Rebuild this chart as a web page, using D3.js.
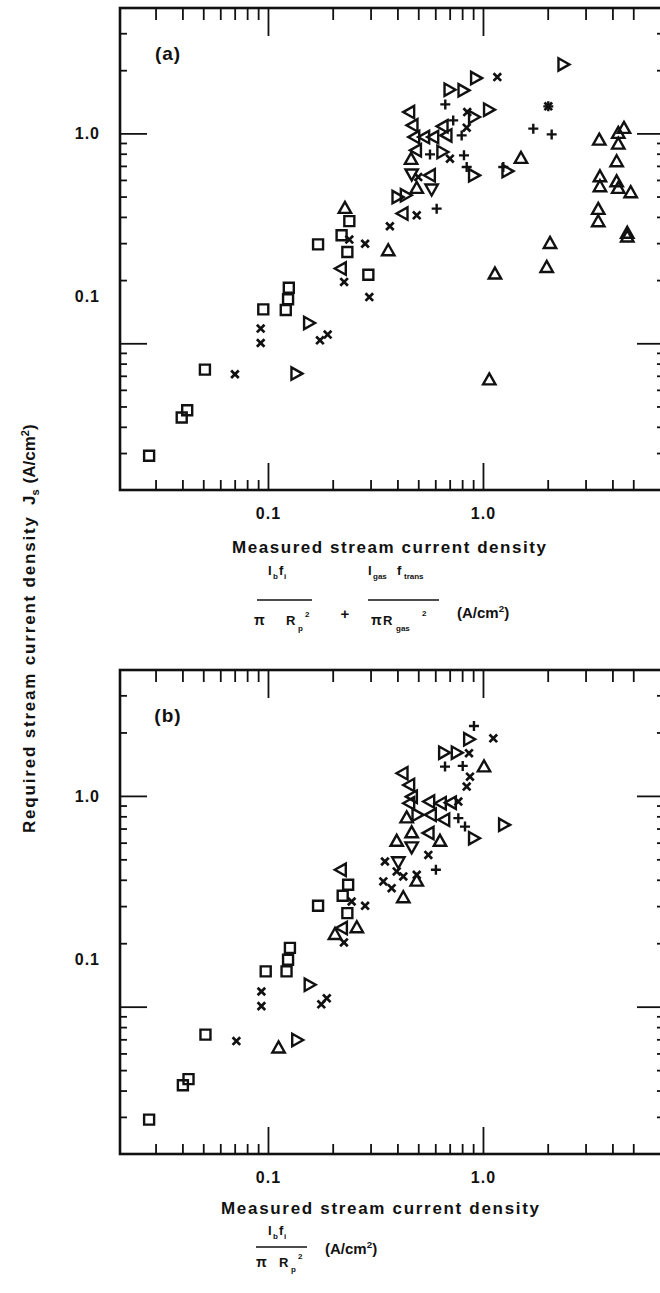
<!DOCTYPE html>
<html>
<head>
<meta charset="utf-8">
<script src="https://cdn.jsdelivr.net/npm/d3@7/dist/d3.min.js"></script>
<style>
  body { margin: 0; background: #fff; }
</style>
</head>
<body>
<div id="chart"></div>
<script>
var width = 660,
	height = 1293;

// tick values
var majorTicks = [0.1, 1];
var minorX = [0.03, 0.04, 0.05, 0.06, 0.07, 0.08, 0.09, 0.2, 0.3, 0.4, 0.5, 0.6, 0.7, 0.8, 0.9, 2, 3, 4, 5];
var minorY = [0.03, 0.04, 0.05, 0.06, 0.07, 0.08, 0.09, 0.2, 0.3, 0.4, 0.5, 0.6, 0.7, 0.8, 0.9, 2, 3];

// panel (a): [measured, required] in A/cm2
var aSquares = [[0.028, 0.0291], [0.0397, 0.0443], [0.0421, 0.048], [0.0509, 0.0749], [0.0951, 0.145], [0.125, 0.184], [0.124, 0.162], [0.121, 0.144], [0.171, 0.296], [0.22, 0.327], [0.239, 0.382], [0.234, 0.272], [0.293, 0.212]];
var aCrosses = [[0.0702, 0.0712], [0.0925, 0.1175], [0.0925, 0.1003], [0.1745, 0.1033], [0.1895, 0.11], [0.239, 0.312], [0.226, 0.196], [0.283, 0.298], [0.296, 0.166], [0.369, 0.361], [0.492, 0.407], [0.5, 0.619], [0.702, 0.758], [0.84, 1.065], [0.845, 1.263], [1.166, 1.854], [2.013, 1.345]];
var aPluses = [[0.668, 1.374], [0.727, 1.153], [0.796, 0.978], [0.567, 0.794], [0.816, 0.786], [0.84, 0.691], [0.609, 0.438], [2.013, 1.345], [1.714, 1.053], [2.087, 0.989], [1.243, 0.691]];
var aTriUp = [[0.228, 0.438], [0.3626, 0.275], [0.463, 0.749], [0.492, 0.545], [1.502, 0.758], [2.05, 0.298], [1.979, 0.229], [1.137, 0.213], [1.07, 0.0667], [3.475, 0.926], [4.259, 0.997], [4.527, 1.053], [4.259, 0.886], [4.186, 0.73], [3.5, 0.619], [3.5, 0.555], [4.186, 0.586], [4.259, 0.545], [4.864, 0.52], [3.437, 0.433], [3.437, 0.378], [4.69, 0.333], [4.69, 0.32]];
var aTriLeft = [[0.22, 0.227], [0.4575, 1.263], [0.474, 1.092], [0.483, 0.96], [0.537, 0.96], [0.592, 0.96], [0.492, 0.83], [0.654, 1.08], [0.682, 0.978], [0.571, 0.631], [0.426, 0.415]];
var aTriRight = [[0.154, 0.125], [0.1345, 0.0717], [2.348, 2.131], [0.921, 1.834], [0.693, 1.615], [0.805, 1.603], [1.058, 1.297], [0.901, 1.196], [0.642, 0.815], [0.901, 0.631], [0.397, 0.497], [0.434, 0.507], [1.289, 0.661]];
var aTriDown = [[0.466, 0.643], [0.577, 0.545]];

// panel (b)
var bSquares = [[0.028, 0.0291], [0.0402, 0.0424], [0.0427, 0.0453], [0.0512, 0.0737], [0.0976, 0.147], [0.122, 0.147], [0.124, 0.167], [0.1265, 0.19], [0.171, 0.301], [0.2226, 0.336], [0.236, 0.379], [0.234, 0.278]];
var bCrosses = [[0.0713, 0.0687], [0.0932, 0.118], [0.0932, 0.1006], [0.177, 0.1026], [0.1877, 0.1096], [0.245, 0.3155], [0.283, 0.301], [0.2256, 0.2017], [0.35, 0.4885], [0.397, 0.438], [0.426, 0.415], [0.344, 0.393], [0.376, 0.365], [0.492, 0.422], [0.557, 0.525], [0.768, 0.94], [0.87, 1.234], [0.84, 1.107], [0.861, 1.594], [1.117, 1.876]];
var bPluses = [[0.908, 2.147], [0.666, 1.377], [0.805, 1.388], [0.768, 0.784], [0.825, 0.715], [0.604, 0.446]];
var bTriUp = [[0.112, 0.0635], [0.259, 0.236], [0.205, 0.2194], [1.011, 1.368], [0.4417, 0.784], [0.397, 0.607], [0.466, 0.666], [0.631, 0.607], [0.492, 0.393], [0.426, 0.3275]];
var bTriLeft = [[0.22, 0.446], [0.2226, 0.236], [0.426, 1.281], [0.4575, 1.127], [0.471, 0.992], [0.567, 0.94], [0.642, 0.923], [0.715, 0.929], [0.4575, 0.923], [0.577, 0.813], [0.666, 0.77], [0.563, 0.666]];
var bTriRight = [[0.155, 0.127], [0.1356, 0.0695], [0.855, 1.856], [0.654, 1.604], [0.749, 1.604], [0.492, 0.813], [1.243, 0.729], [0.901, 0.63]];
var bTriDown = [[0.466, 0.575], [0.404, 0.4885]];

var font = "'Liberation Sans', Arial, Helvetica, sans-serif",
	ink = "#111";

var svg = d3.select("#chart").append("svg")
	.attr("width", width)
	.attr("height", height)
	.style("background", "#fff");

var x = d3.scaleLog().domain([0.0205, 6.95]).range([120, 664]);
var ya = d3.scaleLog().domain([0.02, 4]).range([490, 7]);
var yb = d3.scaleLog().domain([0.02, 4]).range([1154, 669]);

var shapes = {
	square: "M-5,-5h10v10h-10z",
	tri: "M0,-6.8L6.2,4.2L-6.2,4.2Z",
	cross: "M-3.8,-3.8L3.8,3.8M-3.8,3.8L3.8,-3.8",
	plus: "M-5,0H5M0,-5V5"
};

var fmt = function(d) { return d === 1 ? "1.0" : "0.1"; };

function styleAxis(g) {
	g.select(".domain").remove();
	g.selectAll(".tick line").attr("stroke", ink).attr("stroke-width", 1.8);
	g.selectAll("text")
		.attr("font-family", font)
		.attr("font-size", 16)
		.attr("font-weight", "bold")
		.attr("letter-spacing", 1)
		.attr("fill", ink);
}

function drawPanel(y, series, name) {
	var g = svg.append("g");
	var bottom = y.range()[0],
		top = y.range()[1] + 1;

	g.append("g").attr("transform", "translate(0," + bottom + ")")
		.call(d3.axisBottom(x).tickValues(minorX).tickSize(-10).tickFormat("")).call(styleAxis);
	g.append("g").attr("transform", "translate(0," + bottom + ")")
		.call(d3.axisBottom(x).tickValues(majorTicks).tickSize(-27).tickPadding(18).tickFormat(fmt)).call(styleAxis);
	g.append("g").attr("transform", "translate(0," + top + ")")
		.call(d3.axisTop(x).tickValues(minorX).tickSize(-12).tickFormat("")).call(styleAxis);
	g.append("g").attr("transform", "translate(0," + top + ")")
		.call(d3.axisTop(x).tickValues(majorTicks).tickSize(-28).tickFormat("")).call(styleAxis);

	g.append("g").attr("transform", "translate(120,0)")
		.call(d3.axisLeft(y).tickValues(minorY).tickSize(-7).tickFormat("")).call(styleAxis);
	var left = g.append("g").attr("transform", "translate(120,0)")
		.call(d3.axisLeft(y).tickValues(majorTicks).tickSize(-27).tickPadding(20).tickFormat(fmt)).call(styleAxis);
	// the 0.1 label sits well above its tick in the original
	left.selectAll(".tick text").filter(function(d) { return d === 0.1; }).attr("y", -47);

	g.append("g").attr("transform", "translate(664,0)")
		.call(d3.axisRight(y).tickValues(minorY).tickSize(-7).tickFormat("")).call(styleAxis);
	g.append("g").attr("transform", "translate(664,0)")
		.call(d3.axisRight(y).tickValues(majorTicks).tickSize(-27).tickFormat("")).call(styleAxis);

	// frame
	g.append("rect")
		.attr("x", 120).attr("y", top)
		.attr("width", 544).attr("height", bottom - top)
		.attr("fill", "none").attr("stroke", ink).attr("stroke-width", 2.6);

	g.append("text")
		.attr("x", 168).attr("y", top + 52)
		.attr("text-anchor", "middle")
		.attr("font-family", font).attr("font-size", 19).attr("font-weight", "bold")
		.attr("letter-spacing", 1).attr("fill", ink)
		.text(name);

	series.forEach(function(s) {
		g.selectAll(null)
			.data(s.data)
			.enter().append("path")
			.attr("d", shapes[s.shape])
			.attr("transform", function(d) {
				return "translate(" + x(d[0]) + "," + y(d[1]) + ") rotate(" + (s.rot || 0) + ")";
			})
			.attr("fill", "none")
			.attr("stroke", ink)
			.attr("stroke-width", s.shape === "cross" ? 2.7 : 2.4)
			.attr("stroke-linejoin", "miter");
	});
}

drawPanel(ya, [
	{ data: aSquares, shape: "square" },
	{ data: aCrosses, shape: "cross" },
	{ data: aPluses, shape: "plus" },
	{ data: aTriUp, shape: "tri" },
	{ data: aTriLeft, shape: "tri", rot: -90 },
	{ data: aTriRight, shape: "tri", rot: 90 },
	{ data: aTriDown, shape: "tri", rot: 180 }
], "(a)");

drawPanel(yb, [
	{ data: bSquares, shape: "square" },
	{ data: bCrosses, shape: "cross" },
	{ data: bPluses, shape: "plus" },
	{ data: bTriUp, shape: "tri" },
	{ data: bTriLeft, shape: "tri", rot: -90 },
	{ data: bTriRight, shape: "tri", rot: 90 },
	{ data: bTriDown, shape: "tri", rot: 180 }
], "(b)");

// text helpers
function txt(px, py, s, size, anchor) {
	return svg.append("text")
		.attr("x", px).attr("y", py)
		.attr("text-anchor", anchor || "start")
		.attr("font-family", font).attr("font-size", size)
		.attr("font-weight", "bold").attr("fill", ink)
		.text(s);
}
function rule(x1, x2, py) {
	svg.append("line").attr("x1", x1).attr("x2", x2).attr("y1", py).attr("y2", py)
		.attr("stroke", ink).attr("stroke-width", 1.6);
}
function unit(px, py, size) {
	var t = txt(px, py, "", size);
	t.append("tspan").text("(A/cm");
	t.append("tspan").attr("dy", -6).attr("font-size", size * 0.65).text("2");
	t.append("tspan").attr("dy", 6).text(")");
	return t;
}

// x-axis titles
txt(389, 553, "Measured stream current density", 17, "middle")
	.attr("textLength", 314).attr("lengthAdjust", "spacing");
txt(380, 1214, "Measured stream current density", 17, "middle")
	.attr("textLength", 318).attr("lengthAdjust", "spacing");

// formula (a)
txt(268, 575, "I", 13); txt(273, 579, "b", 8);
txt(279, 575, "f", 13); txt(284, 579, "i", 8);
rule(257, 312, 600);
txt(254, 625, "\u03c0", 14); txt(286, 625, "R", 13);
txt(298, 631, "p", 8); txt(305, 617, "2", 8);
txt(345, 619, "+", 15, "middle");
txt(368, 575, "I", 13); txt(373, 579, "gas", 8);
txt(397, 575, "f", 13); txt(404, 579, "trans", 8);
rule(368, 439, 600);
txt(371, 625, "\u03c0", 14); txt(383, 625, "R", 13);
txt(396, 631, "gas", 8); txt(422, 616, "2", 8);
unit(457, 618, 15);

// formula (b)
txt(268, 1235, "I", 13); txt(273, 1239, "b", 8);
txt(279, 1235, "f", 13); txt(284, 1239, "i", 8);
rule(256, 307, 1247);
txt(256, 1267, "\u03c0", 14); txt(279, 1267, "R", 13);
txt(291, 1272, "p", 8); txt(298, 1259, "2", 8);
unit(325, 1254, 15);

// y-axis title
var yt = svg.append("g").attr("transform", "translate(35,833) rotate(-90)");
yt.append("text")
	.attr("font-family", font).attr("font-size", 17).attr("font-weight", "bold").attr("fill", ink)
	.attr("textLength", 316).attr("lengthAdjust", "spacing")
	.text("Required stream current density");
var jt = yt.append("text")
	.attr("x", 328)
	.attr("font-family", font).attr("font-size", 17).attr("font-weight", "bold").attr("fill", ink);
jt.append("tspan").text("J");
jt.append("tspan").attr("dy", 4).attr("font-size", 11).text("s");
jt.append("tspan").attr("dy", -4).attr("dx", 6).text("(A/cm");
jt.append("tspan").attr("dy", -6).attr("font-size", 11).text("2");
jt.append("tspan").attr("dy", 6).text(")");
</script>
</body>
</html>
